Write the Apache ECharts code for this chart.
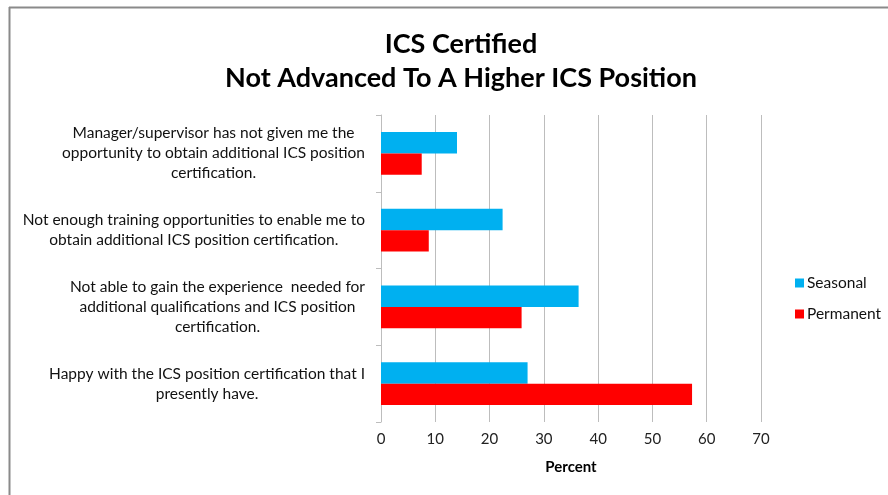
<!DOCTYPE html>
<html><head><meta charset="utf-8">
<script src="https://cdn.jsdelivr.net/npm/echarts@6/dist/echarts.min.js"></script>
<style>html,body{margin:0;padding:0;background:#fff}#c{width:888px;height:495px}</style>
</head><body><div id="c"></div>
<script>
const categories = [
  "Manager/supervisor has not given me the\nopportunity to obtain additional ICS position\ncertification.",
  "Not enough training opportunities to enable me to\nobtain additional ICS position certification.",
  "Not able to gain the experience  needed for\nadditional qualifications and ICS position\ncertification.",
  "Happy with the ICS position certification that I\npresently have."
];
const seasonal = [14, 22.4, 36.4, 27];
const permanent = [7.5, 8.8, 25.9, 57.3];
const xTicks = [0, 10, 20, 30, 40, 50, 60, 70];

const chart = echarts.init(document.getElementById('c'), null, {renderer: 'canvas'});
const FONT = 'Lato';
chart.setOption({
  animation: false,
  backgroundColor: '#fff',
  title: {
    text: 'ICS Certified\nNot Advanced To A Higher ICS Position',
    left: 456, top: 22, textAlign: 'center',
    textStyle: {fontFamily: FONT, fontWeight: 'bold', fontSize: 27, lineHeight: 34, color: '#000'}
  },
  legend: {
    orient: 'vertical', left: 790, top: 270, itemGap: 15,
    itemWidth: 9, itemHeight: 9, icon: 'rect',
    textStyle: {fontFamily: FONT, fontSize: 15.5, color: '#111', padding: [0,0,0,-2]},
    data: ['Seasonal', 'Permanent']
  },
  grid: {left: 381, top: 115, width: 380, height: 307, containLabel: false},
  xAxis: {
    type: 'value', min: xTicks[0], max: xTicks[xTicks.length-1], interval: 10,
    name: 'Percent', nameLocation: 'middle', nameGap: 38,
    nameTextStyle: {fontFamily: FONT, fontWeight: 'bold', fontSize: 15, color: '#000'},
    axisLine: {show: false}, axisTick: {show: false},
    axisLabel: {fontFamily: FONT, fontSize: 15, color: '#222', margin: 10},
    splitLine: {show: true, lineStyle: {color: '#bdbdbd', width: 1}}
  },
  yAxis: {
    type: 'category', inverse: true, data: categories,
    axisLine: {show: true, lineStyle: {color: '#bdbdbd', width: 1}},
    axisTick: {show: true, length: 5, lineStyle: {color: '#bdbdbd'}},
    axisLabel: {
      align: 'right', margin: 16, color: '#111', fontFamily: FONT, fontSize: 15.5, lineHeight: 20,
      formatter: v => v.split('\n').map(l => '{c|' + l + '}').join('\n'),
      rich: {c: {align: 'center', fontFamily: FONT, fontSize: 15.5, lineHeight: 20, color: '#111'}}
    }
  },
  series: [
    {name: 'Seasonal', type: 'bar', data: seasonal, itemStyle: {color: '#00B0F0'}, barGap: '0%', barCategoryGap: '44%'},
    {name: 'Permanent', type: 'bar', data: permanent, itemStyle: {color: '#FF0000'}, barGap: '0%', barCategoryGap: '44%'}
  ],
  graphic: [
    {type: 'line', shape: {x1: 9, y1: 7.5, x2: 888, y2: 7.5}, style: {stroke: '#8a8a8a', lineWidth: 2}},
    {type: 'line', shape: {x1: 9.5, y1: 7, x2: 9.5, y2: 495}, style: {stroke: '#8a8a8a', lineWidth: 2}}
  ]
});
</script></body></html>
